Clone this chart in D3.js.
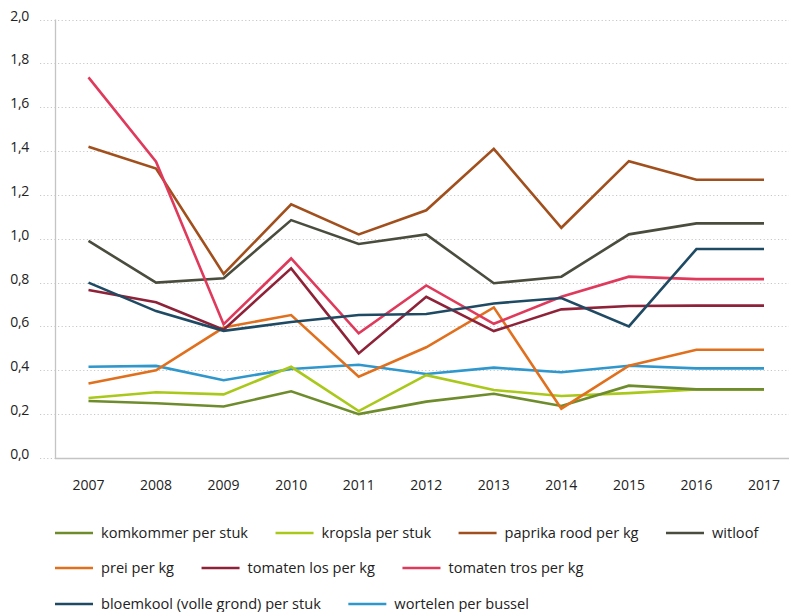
<!DOCTYPE html>
<html>
<head>
<meta charset="utf-8">
<script src="https://cdn.jsdelivr.net/npm/d3@7"></script>
<style>
  body { margin: 0; background: #fff; }
  svg { display: block; font-family: "Open Sans", sans-serif; }
  .line { fill: none; stroke-width: 2.6; stroke-linejoin: miter; }
</style>
</head>
<body>
<div id="chart"></div>
<script>
const years = ["2007", "2008", "2009", "2010", "2011", "2012", "2013", "2014", "2015", "2016", "2017"];
const yTicks = [0, 0.2, 0.4, 0.6, 0.8, 1.0, 1.2, 1.4, 1.6, 1.8, 2.0];

const seriesNames = [
  "komkommer per stuk", "kropsla per stuk", "paprika rood per kg", "witloof",
  "prei per kg", "tomaten los per kg", "tomaten tros per kg",
  "bloemkool (volle grond) per stuk", "wortelen per bussel"
];
const seriesColors = ["#6e8c2c", "#a9c81a", "#a14f1c", "#4a4c3e", "#e0701e", "#8e2238", "#df3a5c", "#1f4a63", "#2f97cc"];

const komkommer   = [0.26, 0.25, 0.235, 0.304, 0.20, 0.257, 0.293, 0.237, 0.33, 0.313, 0.313];
const kropsla     = [0.274, 0.30, 0.29, 0.416, 0.214, 0.378, 0.31, 0.283, 0.296, 0.313, 0.313];
const paprika     = [1.42, 1.32, 0.84, 1.157, 1.02, 1.13, 1.41, 1.05, 1.354, 1.269, 1.269];
const witloof     = [0.99, 0.80, 0.82, 1.085, 0.976, 1.02, 0.797, 0.827, 1.02, 1.07, 1.07];
const prei        = [0.34, 0.40, 0.595, 0.652, 0.371, 0.505, 0.687, 0.225, 0.421, 0.494, 0.494];
const tomatenLos  = [0.766, 0.71, 0.585, 0.865, 0.477, 0.735, 0.579, 0.678, 0.693, 0.695, 0.695];
const tomatenTros = [1.736, 1.351, 0.61, 0.91, 0.569, 0.787, 0.612, 0.735, 0.827, 0.816, 0.816];
const bloemkool   = [0.80, 0.67, 0.58, 0.62, 0.652, 0.657, 0.705, 0.73, 0.60, 0.953, 0.953];
const wortelen    = [0.416, 0.42, 0.355, 0.406, 0.425, 0.383, 0.412, 0.391, 0.421, 0.409, 0.409];

const seriesValues = [komkommer, kropsla, paprika, witloof, prei, tomatenLos, tomatenTros, bloemkool, wortelen];

function init() {
  const W = 789, H = 612;
  const svg = d3.select("#chart").append("svg")
    .attr("width", W)
    .attr("height", H);

  const axisLeft = 55, plotRight = 789, plotTop = 19.5, plotBottom = 458;

  const x = d3.scalePoint()
    .domain(years)
    .range([88.5, 764]);

  const y = d3.scaleLinear()
    .domain([0, 2])
    .range([plotBottom, plotTop]);

  // dotted gridlines
  svg.append("g")
    .selectAll("line")
    .data(yTicks)
    .join("line")
    .attr("x1", 40)
    .attr("x2", plotRight)
    .attr("y1", d => Math.round(y(d)) + 0.5)
    .attr("y2", d => Math.round(y(d)) + 0.5)
    .attr("stroke", "#c8c8c8")
    .attr("stroke-width", 1)
    .attr("stroke-dasharray", "1.2,2.4");

  // y tick labels
  svg.append("g")
    .selectAll("text")
    .data(yTicks)
    .join("text")
    .attr("x", 29)
    .attr("y", d => y(d) + 1)
    .attr("text-anchor", "end")
    .style("font-size", "14px")
    .style("letter-spacing", "-0.3px")
    .attr("fill", "#222")
    .text(d => d3.format(".1f")(d).replace(".", ","));

  // axis lines
  svg.append("line")
    .attr("x1", axisLeft + 0.5).attr("x2", axisLeft + 0.5)
    .attr("y1", plotTop).attr("y2", plotBottom)
    .attr("stroke", "#c4c4c4").attr("stroke-width", 1.3);
  svg.append("line")
    .attr("x1", axisLeft).attr("x2", plotRight)
    .attr("y1", plotBottom + 0.5).attr("y2", plotBottom + 0.5)
    .attr("stroke", "#c4c4c4").attr("stroke-width", 1.3);

  // x labels
  svg.append("g")
    .selectAll("text")
    .data(years)
    .join("text")
    .attr("x", d => x(d))
    .attr("y", 490)
    .attr("text-anchor", "middle")
    .style("font-size", "14px")
    .attr("fill", "#222")
    .text(d => d);

  const line = d3.line()
    .x((d, i) => x(years[i]))
    .y(d => y(d));

  // draw order roughly as in the picture
  const order = [3, 2, 8, 1, 0, 4, 5, 6, 7];
  order.forEach(k => {
    svg.append("path")
      .datum(seriesValues[k])
      .attr("class", "line")
      .attr("d", line)
      .style("stroke", seriesColors[k]);
  });

  // legend, flowing left to right
  const legend = svg.append("g").attr("class", "legend");
  const rowYs = [533, 568, 604];
  let lx = 55, row = 0;
  const maxX = 780;
  seriesNames.forEach((name, i) => {
    const item = legend.append("g");
    const t = item.append("text")
      .attr("x", 46)
      .attr("y", 5)
      .style("font-size", "14.6px")
      .attr("fill", "#222")
      .text(name);
    const w = 46 + t.node().getComputedTextLength();
    if (lx + w > maxX) { row++; lx = 55; }
    item.append("line")
      .attr("x1", 0).attr("x2", 38)
      .attr("y1", 0).attr("y2", 0)
      .attr("stroke", seriesColors[i])
      .attr("stroke-width", 2.6);
    item.attr("transform", `translate(${lx}, ${rowYs[row]})`);
    lx += w + 27.5;
  });
}
window.onload = init;
</script>
</body>
</html>
